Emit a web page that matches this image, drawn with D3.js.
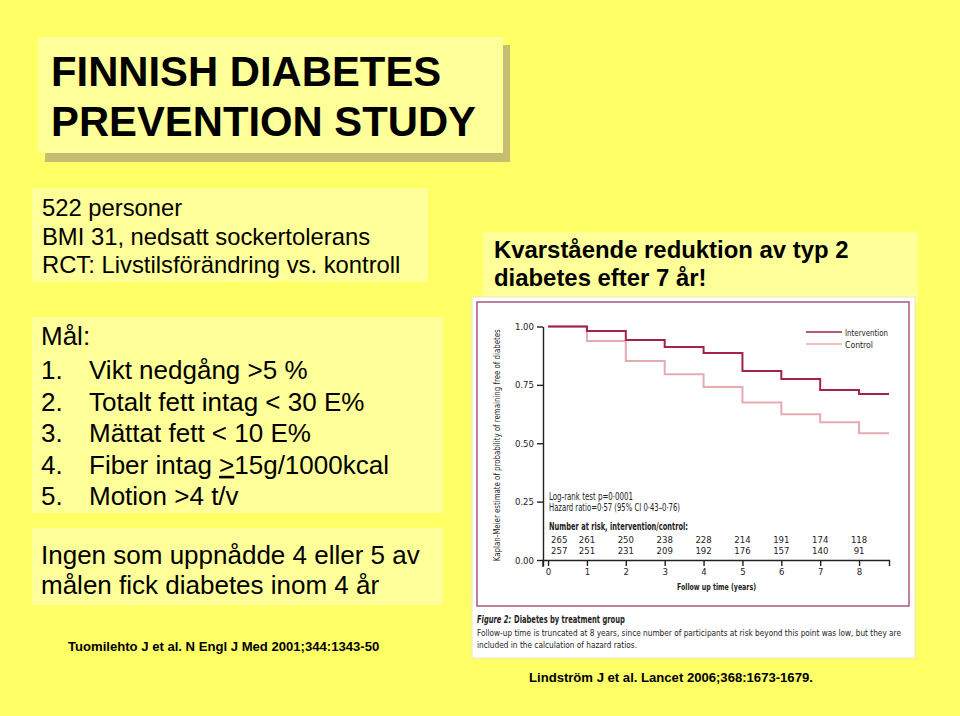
<!DOCTYPE html>
<html><head><meta charset="utf-8">
<script src="https://cdn.jsdelivr.net/npm/d3@7"></script>
<style>
html,body{margin:0;padding:0;background:#ffff66;}
svg{display:block;}
</style></head>
<body>
<script>
// ---- data ----
const years = [0, 1, 2, 3, 4, 5, 6, 7, 8];
const followEnd = 8.77;
const intervention = [1.00, 0.981, 0.942, 0.912, 0.887, 0.809, 0.775, 0.728, 0.711];
const control = [1.00, 0.938, 0.852, 0.795, 0.741, 0.675, 0.624, 0.590, 0.543];
const riskIntervention = [265, 261, 250, 238, 228, 214, 191, 174, 118];
const riskControl = [257, 251, 231, 209, 192, 176, 157, 140, 91];
const yTicks = [0, 0.25, 0.5, 0.75, 1];
const seriesNames = ["Intervention", "Control"];

const titleLines = ["FINNISH DIABETES", "PREVENTION STUDY"];
const infoLines = ["522 personer", "BMI 31, nedsatt sockertolerans", "RCT: Livstilsförändring vs. kontroll"];
const goalHead = "Mål:";
const goalNums = ["1.", "2.", "3.", "4.", "5."];
const goalItems = ["Vikt nedgång >5 %", "Totalt fett intag < 30 E%", "Mättat fett < 10 E%", "Fiber intag ", "Motion >4 t/v"];
const noneLines = ["Ingen som uppnådde 4 eller 5 av", "målen fick diabetes inom 4 år"];
const resultLines = ["Kvarstående reduktion av typ 2", "diabetes efter 7 år!"];
const ref1 = "Tuomilehto J et al. N Engl J Med 2001;344:1343-50";
const ref2 = "Lindström J et al. Lancet 2006;368:1673-1679.";
const captionLines = ["Follow-up time is truncated at 8 years, since number of participants at risk beyond this point was low, but they are",
                      "included in the calculation of hazard ratios."];

const W = 960, H = 716;
const svg = d3.select("body").append("svg").attr("width", W).attr("height", H);
svg.append("rect").attr("width", W).attr("height", H).attr("fill", "#ffff66");

const SANS = "'Liberation Sans', Arial, Helvetica, sans-serif";
const boxFill = "#ffff99";

// title box with shadow
svg.append("rect").attr("x", 45).attr("y", 45).attr("width", 465).attr("height", 117).attr("fill", "#c4bd72");
svg.append("rect").attr("x", 38).attr("y", 37).attr("width", 465).attr("height", 116).attr("fill", boxFill);
svg.selectAll("text.title").data(titleLines).join("text")
  .attr("x", 51).attr("y", (d, i) => 86 + i * 50)
  .attr("font-family", SANS).attr("font-weight", "bold").attr("font-size", 41.8).attr("fill", "#000")
  .text(d => d);

// info box
svg.append("rect").attr("x", 32).attr("y", 188).attr("width", 396).attr("height", 94).attr("fill", boxFill);
svg.selectAll("text.info").data(infoLines).join("text")
  .attr("x", 42).attr("y", (d, i) => 216 + i * 28.5)
  .attr("font-family", SANS).attr("font-size", 23.8).attr("fill", "#000").text(d => d);

// goals box
svg.append("rect").attr("x", 32).attr("y", 317).attr("width", 411).attr("height", 196).attr("fill", boxFill);
svg.append("text").attr("x", 41).attr("y", 345).attr("font-family", SANS).attr("font-size", 26).text(goalHead);
const gy = i => 379 + i * 31.6;
svg.selectAll("text.gn").data(goalNums).join("text")
  .attr("x", 41).attr("y", (d, i) => gy(i)).attr("font-family", SANS).attr("font-size", 26).text(d => d);
const gi = svg.selectAll("text.gi").data(goalItems).join("text")
  .attr("x", 89).attr("y", (d, i) => gy(i)).attr("font-family", SANS).attr("font-size", 26);
gi.each(function(d, i) {
  const t = d3.select(this);
  t.append("tspan").text(d);
  if (i === 3) {
    t.append("tspan").attr("text-decoration", "underline").text(">");
    t.append("tspan").text("15g/1000kcal");
  }
});

// none box
svg.append("rect").attr("x", 32).attr("y", 528).attr("width", 411).attr("height", 77).attr("fill", boxFill);
svg.selectAll("text.none").data(noneLines).join("text")
  .attr("x", 41).attr("y", (d, i) => 564 + i * 29.5)
  .attr("font-family", SANS).attr("font-size", 26).text(d => d);

// result box
svg.append("rect").attr("x", 483).attr("y", 232).attr("width", 435).attr("height", 70).attr("fill", boxFill);
svg.selectAll("text.res").data(resultLines).join("text")
  .attr("x", 494).attr("y", (d, i) => 257.5 + i * 28)
  .attr("font-family", SANS).attr("font-weight", "bold").attr("font-size", 23.9).text(d => d);

// references
svg.append("text").attr("x", 68).attr("y", 651).attr("font-family", SANS).attr("font-weight", "bold")
  .attr("font-size", 13.1).text(ref1);
svg.append("text").attr("x", 529).attr("y", 682).attr("font-family", SANS).attr("font-weight", "bold")
  .attr("font-size", 13.1).text(ref2);

// ---- figure panel ----
svg.append("rect").attr("x", 472).attr("y", 297).attr("width", 443).attr("height", 361)
  .attr("fill", "#fff").attr("stroke", "#e6e6d0").attr("stroke-width", 1);
svg.append("rect").attr("x", 477).attr("y", 302).attr("width", 432).attr("height", 304)
  .attr("fill", "none").attr("stroke", "#a85880").attr("stroke-width", 1.5);

const CF = "'Liberation Sans Narrow', 'DejaVu Sans Condensed', 'Liberation Sans', sans-serif";
const x = d3.scaleLinear().domain([-0.13, followEnd]).range([543, 889]);
const y = d3.scaleLinear().domain([0, 1]).range([560, 326.5]);

const gX = svg.append("g").attr("transform", `translate(0,${y(0)})`)
  .call(d3.axisBottom(x).tickValues(years).tickSize(6).tickSizeOuter(6).tickPadding(2).tickFormat(d3.format("d")));
const gY = svg.append("g").attr("transform", `translate(${x(-0.13)},0)`)
  .call(d3.axisLeft(y).tickValues(yTicks).tickSize(6).tickSizeOuter(0).tickPadding(3).tickFormat(d3.format(".2f")));
[gX, gY].forEach(g => {
  g.selectAll("path,line").attr("stroke", "#222").attr("stroke-width", 1.4);
  g.selectAll("text").attr("font-family", CF).attr("font-size", 9.5).attr("fill", "#222");
});
svg.append("line").attr("x1", x(-0.13)).attr("x2", x(-0.13)).attr("y1", y(0)).attr("y2", y(0) + 7)
  .attr("stroke", "#222").attr("stroke-width", 1.4);

svg.append("text").attr("transform", `translate(500,${(y(0) + y(1)) / 2 + 2}) rotate(-90)`)
  .attr("text-anchor", "middle").attr("font-family", CF).attr("font-size", 9.5).attr("fill", "#222")
  .attr("textLength", 232).attr("lengthAdjust", "spacingAndGlyphs")
  .text("Kaplan-Meier estimate of probability of remaining free of diabetes");

svg.append("text").attr("x", 677).attr("y", 590).attr("font-family", CF)
  .attr("font-size", 9.5).attr("font-weight", "bold").attr("fill", "#222")
  .attr("textLength", 79).attr("lengthAdjust", "spacingAndGlyphs").text("Follow up time (years)");

const stepLine = d3.line().x(d => x(d[0])).y(d => y(d[1])).curve(d3.curveStepAfter);
const mk = vals => years.map((t, i) => [t, vals[i]]).concat([[followEnd, vals[vals.length - 1]]]);
const colors = ["#a2224a", "#e6aab2"];
[control, intervention].forEach((vals, k) => {
  const c = k === 0 ? colors[1] : colors[0];
  svg.append("path").datum(mk(vals)).attr("d", stepLine).attr("fill", "none")
    .attr("stroke", c).attr("stroke-width", 2);
});

// legend
const legendLen = [43, 28];
seriesNames.forEach((n, i) => {
  svg.append("line").attr("x1", 806).attr("x2", 842).attr("y1", 332 + i * 12).attr("y2", 332 + i * 12)
    .attr("stroke", colors[i]).attr("stroke-width", 1.6);
  svg.append("text").attr("x", 845).attr("y", 335.5 + i * 12).attr("font-family", CF).attr("font-size", 9.5)
    .attr("fill", "#222").attr("textLength", legendLen[i]).attr("lengthAdjust", "spacingAndGlyphs").text(n);
});

// stats text
const stat = (t, yy, len, bold) => svg.append("text").attr("x", 549).attr("y", yy).attr("font-family", CF)
  .attr("font-size", 10).attr("fill", "#222").attr("font-weight", bold ? "bold" : null)
  .attr("textLength", len).attr("lengthAdjust", "spacingAndGlyphs").text(t);
stat("Log-rank test p=0·0001", 500, 84, false);
stat("Hazard ratio=0·57 (95% CI 0·43–0·76)", 511, 131, false);
stat("Number at risk, intervention/control:", 530, 139, true);
[riskIntervention, riskControl].forEach((arr, r) => {
  svg.selectAll(null).data(arr).join("text")
    .attr("x", (d, i) => i === 0 ? x(years[i]) + 3 : x(years[i]))
    .attr("y", 543 + r * 11)
    .attr("text-anchor", (d, i) => i === 0 ? "start" : "middle")
    .attr("font-family", CF).attr("font-size", 9.5).attr("fill", "#222").text(d => d);
});

// caption title: two texts in a horizontally scaled group
const capG = svg.append("g");
const t1 = capG.append("text").attr("x", 0).attr("y", 0).attr("font-family", CF).attr("font-size", 10.5)
  .attr("font-weight", "bold").attr("font-style", "italic").attr("fill", "#222").text("Figure 2:");
const w1 = t1.node().getComputedTextLength();
const t2 = capG.append("text").attr("x", w1 + 4).attr("y", 0).attr("font-family", CF).attr("font-size", 10.5)
  .attr("font-weight", "bold").attr("fill", "#222").text("Diabetes by treatment group");
const wAll = w1 + 4 + t2.node().getComputedTextLength();
capG.attr("transform", `translate(477,623) scale(${148 / wAll},1)`);

svg.append("text").attr("x", 477).attr("y", 636).attr("font-family", CF).attr("font-size", 9.2)
  .attr("fill", "#222").attr("textLength", 424).attr("lengthAdjust", "spacingAndGlyphs").text(captionLines[0]);
svg.append("text").attr("x", 477).attr("y", 648).attr("font-family", CF).attr("font-size", 9.2)
  .attr("fill", "#222").attr("textLength", 160).attr("lengthAdjust", "spacingAndGlyphs").text(captionLines[1]);
</script>
</body></html>
